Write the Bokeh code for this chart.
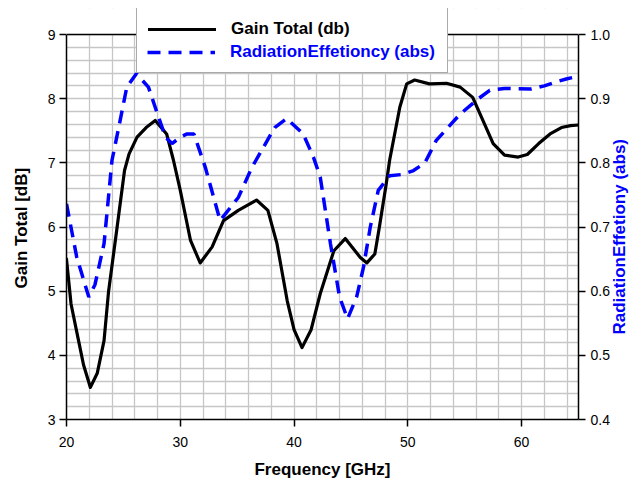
import math
from bokeh.plotting import figure
from bokeh.models import (Range1d, LinearAxis, FixedTicker, Legend, LegendItem,
                          ColumnDataSource, PrintfTickFormatter, Span, BoxAnnotation)
from bokeh.embed import file_html
from bokeh.resources import INLINE

# ---- data ----
gain_freq = [20.0, 20.4, 21.0, 21.5, 22.1, 22.7, 23.3, 23.7, 24.45, 25.1, 25.5,
             26.2, 27.0, 27.8, 28.8, 29.4, 30.0, 30.9, 31.75, 32.8, 33.8, 35.1,
             36.7, 37.7, 38.5, 39.4, 40.0, 40.7, 41.5, 42.3, 43.5, 44.5, 45.8,
             46.4, 47.1, 47.5, 48.1, 48.4, 49.3, 49.9, 50.6, 51.9, 53.4, 54.6,
             55.7, 56.5, 57.5, 58.5, 59.7, 60.5, 61.5, 62.5, 63.5, 64.3, 65.0]
gain_db = [5.50, 4.80, 4.28, 3.85, 3.50, 3.72, 4.23, 5.00, 6.00, 6.88, 7.14,
           7.40, 7.55, 7.66, 7.45, 7.04, 6.57, 5.79, 5.44, 5.69, 6.10, 6.26,
           6.42, 6.26, 5.74, 4.85, 4.40, 4.12, 4.40, 4.96, 5.63, 5.82, 5.53,
           5.44, 5.58, 6.00, 6.67, 7.04, 7.87, 8.23, 8.29, 8.23, 8.24, 8.18,
           8.02, 7.70, 7.30, 7.12, 7.09, 7.13, 7.30, 7.45, 7.55, 7.58, 7.59]

eff_freq = [20.0, 20.9, 21.96, 22.5, 23.3, 24.0, 24.6, 25.3, 26.14, 27.2, 28.0,
            28.7, 29.27, 30.0, 30.6, 31.2, 32.2, 33.5, 35.1, 36.3, 37.3, 38.3,
            39.36, 40.8, 41.7, 42.3, 43.2, 44.0, 44.7, 45.5, 46.1, 46.7, 47.4,
            48.4, 49.6, 50.5, 51.5, 52.5, 54.6, 56.2, 57.2, 58.5, 60.8, 62.0,
            63.0, 64.0, 65.0]
eff_abs = [0.736, 0.653, 0.591, 0.610, 0.674, 0.804, 0.856, 0.918, 0.939, 0.918,
           0.876, 0.840, 0.830, 0.840, 0.845, 0.845, 0.793, 0.710, 0.746, 0.793,
           0.824, 0.855, 0.869, 0.845, 0.809, 0.778, 0.674, 0.591, 0.557, 0.591,
           0.637, 0.700, 0.757, 0.780, 0.782, 0.788, 0.800, 0.835, 0.876, 0.900,
           0.913, 0.916, 0.915, 0.920, 0.926, 0.931, 0.935]

x_ticks = [20, 30, 40, 50, 60]
gain_ticks = [3, 4, 5, 6, 7, 8, 9]
eff_ticks = [0.4, 0.5, 0.6, 0.7, 0.8, 0.9, 1.0]
gain_label = "Gain Total (db)"
eff_label = "RadiationEffetioncy (abs)"
x_title = "Frequency [GHz]"
left_title = "Gain Total [dB]"
right_title = "RadiationEffetiony (abs)"

FONT = "Liberation Sans"
BLUE = "#0000ff"
NB = "\u00a0"  # non-breaking spaces used to nudge the rotated titles

# frame extends from y=8 px (room for legend) down to y=419; data 3..9 spans 385 px
W, H = 641, 489
TOP, BOTTOM, LEFT, RIGHT = 8, 70, 66, 62
frame_h = H - TOP - BOTTOM
data_px = 385
g_lo, g_hi = gain_ticks[0], gain_ticks[-1]
e_lo, e_hi = eff_ticks[0], eff_ticks[-1]
g_top = g_lo + (g_hi - g_lo) * frame_h / data_px
e_top = e_lo + (e_hi - e_lo) * frame_h / data_px

p = figure(width=W, height=H, output_backend="svg", toolbar_location=None,
           x_range=Range1d(20, 65), y_range=Range1d(g_lo, g_top),
           min_border_left=LEFT, min_border_right=RIGHT, min_border_top=TOP,
           min_border_bottom=BOTTOM, background_fill_color="white",
           border_fill_color="white")
p.outline_line_color = None

p.extra_y_ranges = {"eff": Range1d(e_lo, e_top)}

# grid
p.xgrid.ticker = FixedTicker(ticks=list(range(20, 66, 2)))
p.ygrid.ticker = FixedTicker(ticks=[round(3 + 0.2 * i, 1) for i in range(31)])
for g in (p.xgrid, p.ygrid):
    g.grid_line_color = "#c6c6c6"
    g.grid_line_width = 1.3

# white cover above the top of the data area (hides grid above 9)
p.add_layout(BoxAnnotation(bottom=g_hi, fill_color="white", fill_alpha=1.0,
                           line_alpha=0.0))
# top border of the data area
p.add_layout(Span(location=g_hi, dimension="width", line_color="black",
                  line_width=1.5))

# axes
p.xaxis.ticker = FixedTicker(ticks=x_ticks)
p.yaxis.ticker = FixedTicker(ticks=gain_ticks)
p.yaxis.bounds = (g_lo, g_hi)
p.xaxis.axis_label = x_title
p.yaxis.axis_label = left_title + NB * 6

right = LinearAxis(y_range_name="eff")
right.ticker = FixedTicker(ticks=eff_ticks)
right.formatter = PrintfTickFormatter(format="%.1f")
right.bounds = (e_lo, e_hi)
right.axis_label_orientation = math.pi / 2
if "axis_label_align" in LinearAxis.properties():
    right.axis_label_align = "start"
    right.axis_label = NB * 18 + right_title
else:
    right.axis_label = right_title
p.add_layout(right, "right")

for ax in (p.xaxis[0], p.yaxis[0], right):
    ax.axis_line_color = "black"
    ax.axis_line_width = 1.5
    ax.major_tick_line_color = "black"
    ax.major_tick_line_width = 1.5
    ax.major_tick_out = 7
    ax.major_tick_in = 0
    ax.minor_tick_line_color = None
    ax.major_label_text_font = FONT
    ax.major_label_text_font_size = "14px"
    ax.major_label_text_color = "black"
    ax.axis_label_text_font = FONT
    ax.axis_label_text_font_size = "17px"
    ax.axis_label_text_font_style = "bold"
    ax.axis_label_text_color = "black"

p.xaxis.major_label_standoff = 10
p.xaxis.axis_label_standoff = 10
p.yaxis.major_label_standoff = 4
p.yaxis.axis_label_standoff = 14
right.major_label_standoff = 5
right.axis_label_standoff = 7
right.axis_label_text_color = BLUE

# curves
g_src = ColumnDataSource(dict(x=gain_freq, y=gain_db))
e_src = ColumnDataSource(dict(x=eff_freq, y=eff_abs))
r_gain = p.line("x", "y", source=g_src, line_color="black", line_width=3.2,
                line_join="round", line_cap="round")
r_eff = p.line("x", "y", source=e_src, y_range_name="eff", line_color=BLUE,
               line_width=3.5, line_dash="13 8")
r_dummy = p.line(x=[20, 20], y=[3, 3], line_alpha=0)

common = dict(location=(70, 346), padding=11, margin=0, spacing=2,
              glyph_width=68, glyph_height=20, label_standoff=15,
              label_width=205, label_text_font=FONT,
              label_text_font_size="17px", label_text_font_style="bold",
              label_height=20)

leg_a = Legend(items=[LegendItem(label=gain_label, renderers=[r_gain]),
                      LegendItem(label=" ", renderers=[r_dummy])],
               background_fill_color="white", background_fill_alpha=1.0,
               border_line_color="#555555", border_line_width=1.5,
               label_text_color="black", **common)
leg_b = Legend(items=[LegendItem(label=" ", renderers=[r_dummy]),
                      LegendItem(label=eff_label, renderers=[r_eff])],
               background_fill_alpha=0.0, border_line_alpha=0.0,
               label_text_color=BLUE, **common)
p.add_layout(leg_a, "center")
p.add_layout(leg_b, "center")

open("out.html", "w").write(file_html(p, INLINE))
